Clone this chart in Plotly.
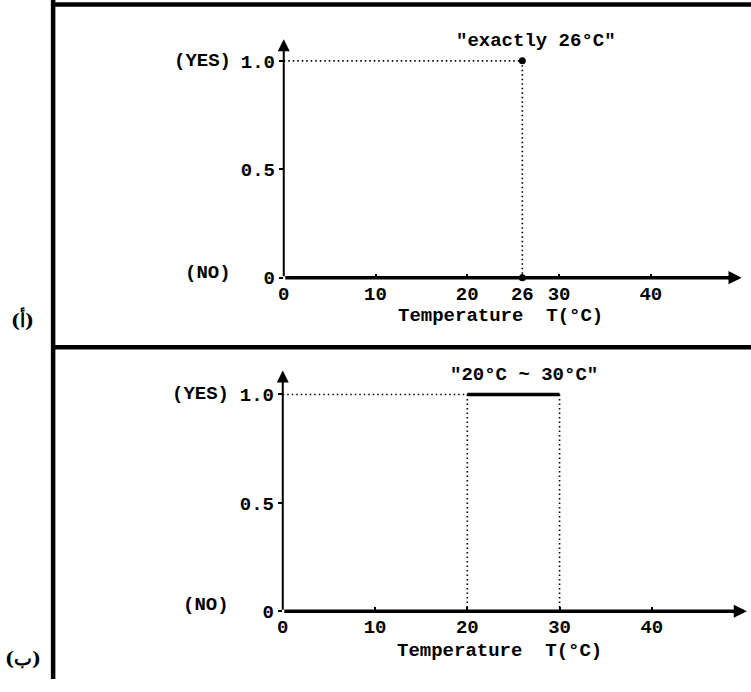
import plotly.graph_objects as go

# ---------------- data ----------------
x_ticks_a = [0, 10, 20, 26, 30, 40]
x_ticks_b = [0, 10, 20, 30, 40]
y_ticks = [0, 0.5, 1.0]
y_ticktext = ["0", "0.5", "1.0"]

exact_T = 26            # crisp set "exactly 26°C"
range_T = [20, 30]      # crisp set "20°C ~ 30°C"
yes_value = 1.0
no_value = 0.0

title_a = '"exactly 26°C"'
title_b = '"20°C ~ 30°C"'
x_title = "Temperature\u00a0\u00a0T(°C)"
panel_labels = ["(أ)", "(ب)"]

# ---------------- layout helpers ----------------
W, H = 751, 692
def px(x):
    return x / W
def py(y):
    return 1 - y / H

MONO = "Liberation Mono"
FS = 19
tick_font = dict(family=MONO, size=FS, color="black", weight="bold")

fig = go.Figure()

# ---- panel (a) ----
fig.add_trace(go.Scatter(x=[0, exact_T, exact_T], y=[yes_value, yes_value, no_value],
                         mode="lines", line=dict(color="black", width=1.6, dash="1.5px,3px"),
                         xaxis="x", yaxis="y", showlegend=False, cliponaxis=False))
fig.add_trace(go.Scatter(x=[exact_T, exact_T], y=[yes_value, no_value], mode="markers",
                         marker=dict(color="black", size=7), xaxis="x", yaxis="y",
                         showlegend=False, cliponaxis=False))

# ---- panel (b) ----
fig.add_trace(go.Scatter(x=[0, range_T[0], range_T[0]], y=[yes_value, yes_value, no_value],
                         mode="lines", line=dict(color="black", width=1.6, dash="1.5px,3px"),
                         xaxis="x2", yaxis="y2", showlegend=False, cliponaxis=False))
fig.add_trace(go.Scatter(x=[range_T[1], range_T[1]], y=[yes_value, no_value],
                         mode="lines", line=dict(color="black", width=1.6, dash="1.5px,3px"),
                         xaxis="x2", yaxis="y2", showlegend=False, cliponaxis=False))
fig.add_trace(go.Scatter(x=range_T, y=[yes_value, yes_value], mode="lines",
                         line=dict(color="black", width=3.5),
                         xaxis="x2", yaxis="y2", showlegend=False, cliponaxis=False))

xrng = [0, 50.5]
yrng = [0, 1.12]

common_x = dict(range=xrng, showgrid=False, zeroline=False, showline=False,
                ticks="inside", ticklen=4, tickwidth=2, tickcolor="black",
                tickfont=tick_font, fixedrange=True, ticklabelstandoff=2)
common_y = dict(range=yrng, showgrid=False, zeroline=False, showline=False,
                ticks="outside", ticklen=4, tickwidth=2, tickcolor="black",
                tickvals=y_ticks, ticktext=y_ticktext, tickfont=tick_font,
                fixedrange=True, ticklabelstandoff=0)

fig.update_layout(
    width=W, height=H,
    margin=dict(l=0, r=0, t=0, b=0),
    paper_bgcolor="white", plot_bgcolor="rgba(0,0,0,0)",
    hovermode=False,
    xaxis=dict(common_x, domain=[px(280), px(747.1)], anchor="y",
               tickvals=x_ticks_a),
    yaxis=dict(common_y, domain=[py(283), py(35.5)], anchor="x"),
    xaxis2=dict(common_x, domain=[px(279), px(748.7)], anchor="y2",
                tickvals=x_ticks_b),
    yaxis2=dict(common_y, domain=[py(623), py(375.5)], anchor="x2"),
)

annotations = []
for xa, ya, xtip, ytip in [("x", "y", 49.9, 1.1), ("x2", "y2", 50.3, 1.11)]:
    # horizontal axis with arrow
    annotations.append(dict(x=xtip, y=0, ax=0, ay=0, xref=xa, yref=ya, axref=xa, ayref=ya,
                            text="", showarrow=True, arrowhead=2, arrowsize=0.75,
                            arrowwidth=3.5, arrowcolor="black"))
    # vertical axis with arrow
    annotations.append(dict(x=0, y=ytip, ax=0, ay=0, xref=xa, yref=ya, axref=xa, ayref=ya,
                            text="", showarrow=True, arrowhead=2, arrowsize=1.2,
                            arrowwidth=2, arrowcolor="black"))

txt = dict(family=MONO, size=FS, color="black", weight="bold")
# YES / NO labels
annotations += [
    dict(x=px(229), y=py(62), xref="paper", yref="paper", text="(YES)", showarrow=False,
         xanchor="right", yanchor="middle", font=txt),
    dict(x=px(229), y=py(278), xref="paper", yref="paper", text="(NO)", showarrow=False,
         xanchor="right", yanchor="middle", font=txt),
    dict(x=px(227), y=py(402), xref="paper", yref="paper", text="(YES)", showarrow=False,
         xanchor="right", yanchor="middle", font=txt),
    dict(x=px(227), y=py(617), xref="paper", yref="paper", text="(NO)", showarrow=False,
         xanchor="right", yanchor="middle", font=txt),
]
# titles
annotations += [
    dict(x=px(534), y=py(42), xref="paper", yref="paper", text=title_a, showarrow=False,
         xanchor="center", yanchor="middle", font=txt),
    dict(x=px(522), y=py(382), xref="paper", yref="paper", text=title_b, showarrow=False,
         xanchor="center", yanchor="middle", font=txt),
    dict(x=px(498), y=py(322), xref="paper", yref="paper", text=x_title, showarrow=False,
         xanchor="center", yanchor="middle", font=txt),
    dict(x=px(497), y=py(663), xref="paper", yref="paper", text=x_title, showarrow=False,
         xanchor="center", yanchor="middle", font=txt),
]
# panel labels
lab_font = dict(family="DejaVu Serif, Liberation Serif, serif", size=19, color="black",
                weight="bold")
annotations += [
    dict(x=px(17), y=py(325), xref="paper", yref="paper", text=panel_labels[0],
         showarrow=False, xanchor="center", yanchor="middle", font=lab_font),
    dict(x=px(17), y=py(671), xref="paper", yref="paper", text=panel_labels[1],
         showarrow=False, xanchor="center", yanchor="middle", font=lab_font),
]
fig.update_layout(annotations=annotations)

# frame lines
frame = dict(type="line", xref="paper", yref="paper", line=dict(color="black", width=4.5))
fig.update_layout(shapes=[
    dict(frame, x0=px(47.5), x1=px(47.5), y0=0, y1=1),
    dict(frame, x0=px(45.5), x1=1, y0=py(4.5), y1=py(4.5)),
    dict(frame, x0=px(45.5), x1=1, y0=py(354), y1=py(354)),
])

fig.write_html("out.html", config={"displayModeBar": False, "staticPlot": False},
               post_script="document.body.style.margin='0';document.body.style.padding='0';")
